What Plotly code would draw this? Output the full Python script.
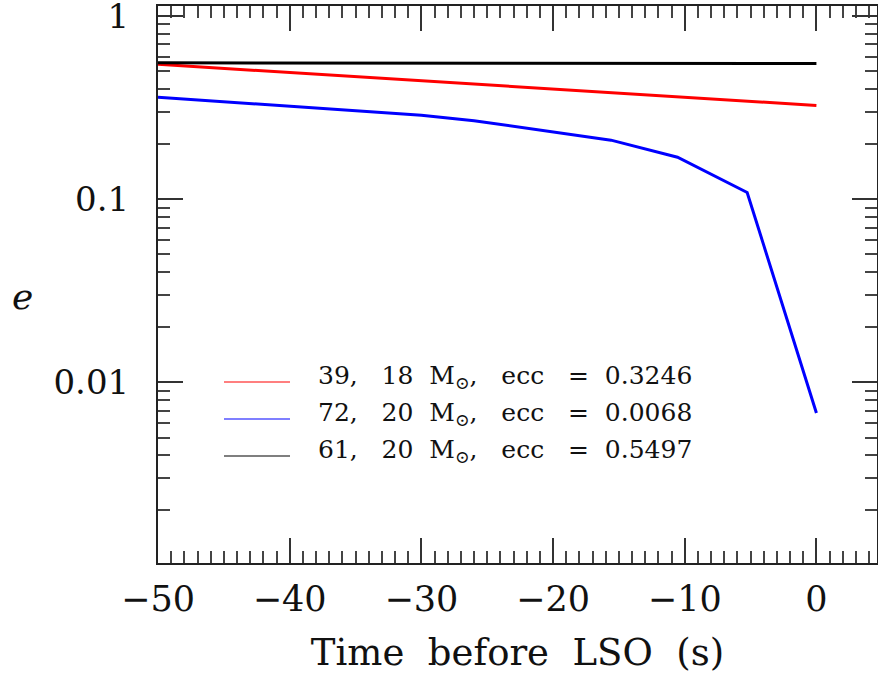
import plotly.graph_objects as go

# Data
t_red = [-50, -40, -30, -20, -10, 0]
e_red = [0.545, 0.491, 0.443, 0.399, 0.360, 0.3246]

t_blue = [-50, -40, -30, -26, -21.7, -15.6, -10.55, -5.26, 0]
e_blue = [0.360, 0.321, 0.287, 0.268, 0.243, 0.210, 0.1695, 0.1088, 0.0068]

t_black = [-50, -25, 0]
e_black = [0.555, 0.552, 0.5497]

labels = [
    "39,   18  M<sub>⊙</sub>,   ecc   =  0.3246",
    "72,   20  M<sub>⊙</sub>,   ecc   =  0.0068",
    "61,   20  M<sub>⊙</sub>,   ecc   =  0.5497",
]
colors = ["#ff0000", "#0000ff", "#000000"]

x_ticks = [-50, -40, -30, -20, -10, 0]
y_ticks = [0.01, 0.1, 1]
y_ticktext = ["0.01", "0.1", "1"]

FONT = "DejaVu Serif"

fig = go.Figure()
for tx, ey, c, name in [(t_red, e_red, colors[0], labels[0]),
                        (t_blue, e_blue, colors[1], labels[1]),
                        (t_black, e_black, colors[2], labels[2])]:
    fig.add_trace(go.Scatter(x=tx, y=ey, mode="lines",
                             line=dict(color=c, width=3), name=name,
                             showlegend=False))

W, H = 878, 678
ml, mr, mt, mb = 158, 1, 6, 115
pw, ph = W - ml - mr, H - mt - mb

def px2paper_x(px):
    return (px - ml) / pw

def py2paper_y(py):
    return 1 - (py - mt) / ph

# manual legend
leg_rows_y = [382, 419, 456]
for yy, c, lab in zip(leg_rows_y, colors, labels):
    fig.add_shape(type="line", xref="paper", yref="paper",
                  x0=px2paper_x(224), x1=px2paper_x(290),
                  y0=py2paper_y(yy), y1=py2paper_y(yy),
                  line=dict(color=c, width=1.2))
    fig.add_annotation(xref="paper", yref="paper", x=px2paper_x(316),
                       y=py2paper_y(yy - 5), text=lab, showarrow=False,
                       xanchor="left", yanchor="middle",
                       font=dict(family=FONT, size=25, color="#111"))

# y axis title
fig.add_annotation(xref="paper", yref="paper", x=px2paper_x(22), y=py2paper_y(296),
                   text="<i>e</i>", showarrow=False, xanchor="center", yanchor="middle",
                   font=dict(family=FONT, size=36, color="#111"))

fig.update_layout(
    width=W, height=H,
    margin=dict(l=ml, r=mr, t=mt, b=mb, pad=0, autoexpand=False),
    paper_bgcolor="white", plot_bgcolor="white",
    font=dict(family=FONT, color="#111"),
    showlegend=False,
)
fig.update_xaxes(
    range=[-50, 4.6], tickvals=x_ticks, ticks="inside", ticklen=25, tickwidth=1.5,
    tickcolor="#333", showline=True, linecolor="#222", linewidth=2, mirror="ticks",
    showgrid=False, zeroline=False, tickfont=dict(family=FONT, size=35, color="#111"),
    ticklabelstandoff=4, automargin=False,
    minor=dict(ticks="inside", ticklen=12, tickwidth=1.5, tickcolor="#444", dtick=1, showgrid=False),
    title=dict(text="Time  before  LSO  (s)", font=dict(family=FONT, size=37, color="#111"), standoff=21),
)
fig.update_yaxes(
    type="log", range=[-2.986, 0.0546], tickvals=y_ticks, ticktext=y_ticktext,
    ticks="inside", ticklen=25, tickwidth=1.5, tickcolor="#333",
    showline=True, linecolor="#222", linewidth=2, mirror="ticks",
    showgrid=False, zeroline=False, tickfont=dict(family=FONT, size=34, color="#111"),
    ticklabelstandoff=20, ticklabeloverflow="allow", automargin=False,
    minor=dict(ticks="inside", ticklen=12, tickwidth=1.5, tickcolor="#444", dtick="D1", showgrid=False),
)

fig.write_html("out.html")
